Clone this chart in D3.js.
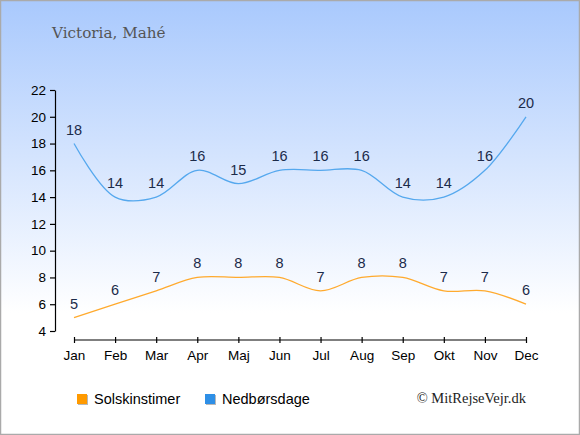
<!DOCTYPE html>
<html><head><meta charset="utf-8">
<script src="https://cdn.jsdelivr.net/npm/d3@7/dist/d3.min.js"></script>
<style>body{margin:0;padding:0;background:#fff}svg{display:block}</style>
</head><body>
<script>
const months = ["Jan","Feb","Mar","Apr","Maj","Jun","Jul","Aug","Sep","Okt","Nov","Dec"];
const sunHours = [5,6,7,8,8,8,7,8,8,7,7,6];
const rainDays = [18,14,14,16,15,16,16,16,14,14,16,20];
const yTicks = [4,6,8,10,12,14,16,18,20,22];
const title = "Victoria, Mahé";
const seriesNames = ["Solskinstimer","Nedbørsdage"];
const credit = "© MitRejseVejr.dk";

const W = 580, H = 435;
const svg = d3.select("body").append("svg").attr("width", W).attr("height", H);
const defs = svg.append("defs");
const g = defs.append("linearGradient").attr("id","bg").attr("x1",0).attr("y1",0).attr("x2",0).attr("y2",1);
g.append("stop").attr("offset","0%").attr("stop-color","#a9c9fd");
g.append("stop").attr("offset","72%").attr("stop-color","#ffffff");
g.append("stop").attr("offset","100%").attr("stop-color","#ffffff");
const sh = defs.append("filter").attr("id","sh").attr("x","-20%").attr("y","-20%").attr("width","160%").attr("height","160%");
sh.append("feDropShadow").attr("dx",1).attr("dy",1).attr("stdDeviation",0.6).attr("flood-color","#888").attr("flood-opacity",0.6);

svg.append("rect").attr("x",0.5).attr("y",0.5).attr("width",W-1).attr("height",H-1)
  .attr("fill","url(#bg)").attr("stroke","#aaaaaa").attr("stroke-width",1.5);

svg.append("text").attr("x",52).attr("y",38).text(title)
  .attr("font-family","'DejaVu Serif', 'Liberation Serif', serif").attr("font-size",15.2).attr("fill","#555");

const x = d3.scalePoint().domain(months).range([74, 526]);
const y = d3.scaleLinear().domain([4,22]).range([331, 90]);

const sans = "'Liberation Sans', Arial, sans-serif";
const yAxis = svg.append("g").attr("transform","translate(55,0)")
  .call(d3.axisLeft(y).tickValues(yTicks).tickSize(5).tickPadding(4).tickSizeOuter(0));
const xAxis = svg.append("g").attr("transform","translate(0,340)")
  .call(d3.axisBottom(x).tickSize(4).tickPadding(6).tickSizeOuter(0));
[yAxis,xAxis].forEach(a=>{
  a.select(".domain").attr("stroke","#000").attr("stroke-width",1.2);
  a.selectAll(".tick line").attr("stroke","#000").attr("stroke-width",1.2);
  a.selectAll("text").attr("font-family",sans).attr("font-size",13.5).attr("fill","#000");
});
xAxis.select(".domain").attr("d","M74,0H526");
xAxis.selectAll(".tick line").attr("y1",-3).attr("y2",3);

const line = d3.line().x((d,i)=>x(months[i])).y(d=>y(d)).curve(d3.curveCatmullRom.alpha(0.5));

function drawSeries(data, color) {
  svg.append("path").datum(data).attr("d", line).attr("fill","none")
    .attr("stroke", color).attr("stroke-width",1.3);
  svg.append("g").selectAll("text").data(data).join("text")
    .attr("x",(d,i)=>x(months[i])).attr("y",d=>y(d)-9)
    .attr("text-anchor","middle").text(d=>d)
    .attr("font-family",sans).attr("font-size",14.5).attr("fill","#1c2b4a");
}
drawSeries(sunHours, "#ffaa2e");
drawSeries(rainDays, "#55a8ee");

const legendColors = ["#ff9a00","#2f8fe6"];
const legendX = [77, 205];
seriesNames.forEach((n,i)=>{
  svg.append("rect").attr("x",legendX[i]).attr("y",394).attr("width",10).attr("height",10)
    .attr("fill",legendColors[i]).attr("filter","url(#sh)");
  svg.append("text").attr("x",legendX[i]+17).attr("y",404).text(n)
    .attr("font-family",sans).attr("font-size",14.5).attr("fill","#000");
});
svg.append("text").attr("x",526).attr("y",403).attr("text-anchor","end").text(credit)
  .attr("font-family","'Liberation Serif', 'DejaVu Serif', serif").attr("font-size",14.5).attr("fill","#222");
</script>
</body></html>
